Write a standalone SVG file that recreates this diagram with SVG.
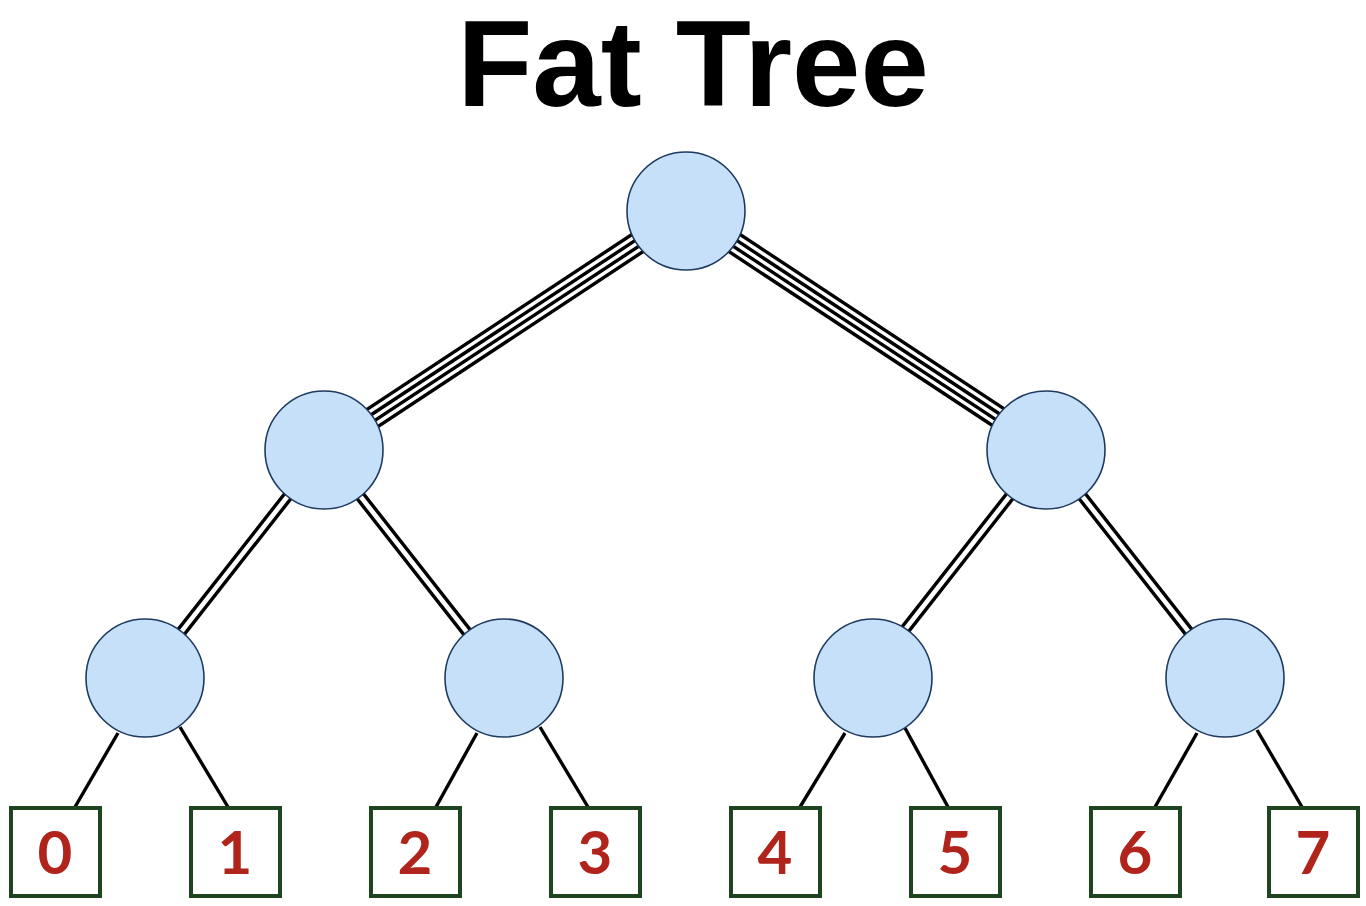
<svg xmlns="http://www.w3.org/2000/svg" width="1366" height="906" viewBox="0 0 1366 906">
<style>
.n{fill:#c6e0fa;stroke:#1e3a60;stroke-width:1.6}
.b{fill:#fff;stroke:#1f4520;stroke-width:4}
.l{stroke:#000;stroke-width:3.4;fill:none}
.d{font-family:"Lato","Liberation Sans",sans-serif;font-weight:bold;font-size:60px;fill:#b0241c;text-anchor:middle}
.t{font-family:"Liberation Sans",Arial,sans-serif;font-weight:bold;font-size:123px;fill:#000;text-anchor:middle}
</style>
<rect width="1366" height="906" fill="#fff"/>
<text class="t" x="693" y="106">Fat Tree</text>
<g id="connectors">
<g transform="translate(686,211) rotate(146.57)">
<line class="l" x1="0" y1="-10.2" x2="434" y2="-10.2"/>
<line class="l" x1="0" y1="-3.4" x2="434" y2="-3.4"/>
<line class="l" x1="0" y1="3.4" x2="434" y2="3.4"/>
<line class="l" x1="0" y1="10.2" x2="434" y2="10.2"/>
</g>
<g transform="translate(686,211) rotate(33.43)">
<line class="l" x1="0" y1="-10.2" x2="434" y2="-10.2"/>
<line class="l" x1="0" y1="-3.4" x2="434" y2="-3.4"/>
<line class="l" x1="0" y1="3.4" x2="434" y2="3.4"/>
<line class="l" x1="0" y1="10.2" x2="434" y2="10.2"/>
</g>
<g transform="translate(324,450) rotate(128.13)">
<line class="l" x1="0" y1="-4" x2="290" y2="-4"/>
<line class="l" x1="0" y1="4" x2="290" y2="4"/>
</g>
<g transform="translate(324,450) rotate(51.87)">
<line class="l" x1="0" y1="-4" x2="290" y2="-4"/>
<line class="l" x1="0" y1="4" x2="290" y2="4"/>
</g>
<g transform="translate(1046,450) rotate(128.13)">
<line class="l" x1="0" y1="-4" x2="290" y2="-4"/>
<line class="l" x1="0" y1="4" x2="290" y2="4"/>
</g>
<g transform="translate(1046,450) rotate(51.87)">
<line class="l" x1="0" y1="-4" x2="290" y2="-4"/>
<line class="l" x1="0" y1="4" x2="290" y2="4"/>
</g>
<line class="l" x1="118" y1="733" x2="75" y2="807"/>
<line class="l" x1="180" y1="727" x2="228" y2="807"/>
<line class="l" x1="477" y1="733" x2="436" y2="807"/>
<line class="l" x1="540" y1="727" x2="588" y2="807"/>
<line class="l" x1="845" y1="733" x2="800" y2="807"/>
<line class="l" x1="905" y1="728" x2="948" y2="807"/>
<line class="l" x1="1197" y1="733" x2="1155" y2="807"/>
<line class="l" x1="1257" y1="730" x2="1302" y2="807"/>
</g>
<g id="root"><circle class="n" cx="686" cy="211" r="59"/></g>
<g id="mid-left"><circle class="n" cx="324" cy="450" r="59"/></g>
<g id="mid-right"><circle class="n" cx="1046" cy="450" r="59"/></g>
<g id="low-1"><circle class="n" cx="145" cy="678" r="59"/></g>
<g id="low-2"><circle class="n" cx="504" cy="678" r="59"/></g>
<g id="low-3"><circle class="n" cx="873" cy="678" r="59"/></g>
<g id="low-4"><circle class="n" cx="1225" cy="678" r="59"/></g>
<g id="leaf-0"><rect class="b" x="11" y="808" width="89" height="88"/><text class="d" x="55" y="874">0</text></g>
<g id="leaf-1"><rect class="b" x="191" y="808" width="89" height="88"/><text class="d" x="235" y="874">1</text></g>
<g id="leaf-2"><rect class="b" x="371" y="808" width="89" height="88"/><text class="d" x="415" y="874">2</text></g>
<g id="leaf-3"><rect class="b" x="551" y="808" width="89" height="88"/><text class="d" x="595" y="874">3</text></g>
<g id="leaf-4"><rect class="b" x="731" y="808" width="89" height="88"/><text class="d" x="775" y="874">4</text></g>
<g id="leaf-5"><rect class="b" x="911" y="808" width="89" height="88"/><text class="d" x="955" y="874">5</text></g>
<g id="leaf-6"><rect class="b" x="1091" y="808" width="89" height="88"/><text class="d" x="1135" y="874">6</text></g>
<g id="leaf-7"><rect class="b" x="1269" y="808" width="89" height="88"/><text class="d" x="1313" y="874">7</text></g>
</svg>
